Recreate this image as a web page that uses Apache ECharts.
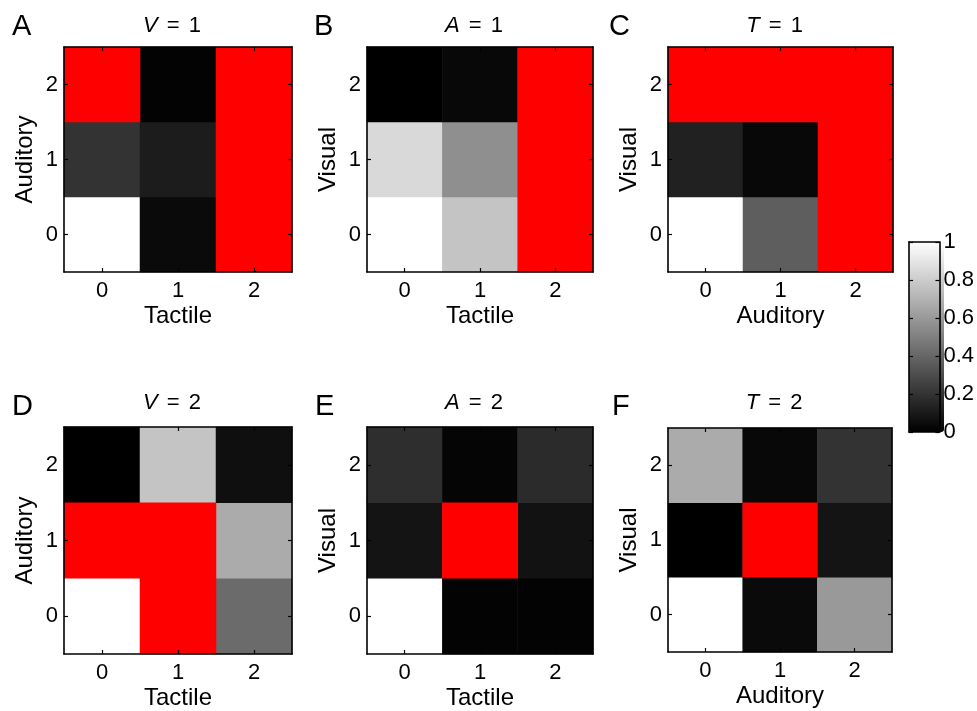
<!DOCTYPE html>
<html><head><meta charset="utf-8">
<script src="https://cdn.jsdelivr.net/npm/echarts@6/dist/echarts.min.js"></script>
<style>html,body{margin:0;padding:0;background:#fff}#c{width:977px;height:711px}</style>
</head><body><div id="c"></div>
<script>
// ---- data ----
const ticks = ['0', '1', '2'];
const panelLetters = ['A', 'B', 'C', 'D', 'E', 'F'];
const condVar = ['V', 'A', 'T', 'V', 'A', 'T'];
const condVal = ['1', '1', '1', '2', '2', '2'];
const xNames = ['Tactile', 'Tactile', 'Auditory', 'Tactile', 'Tactile', 'Auditory'];
const yNames = ['Auditory', 'Visual', 'Visual', 'Auditory', 'Visual', 'Visual'];
// rows indexed by y level (0,1,2), columns by x level (0,1,2); null = excluded (red)
const panelA = [[1.00, 0.04, null], [0.20, 0.11, null], [null, 0.01, null]];
const panelB = [[1.00, 0.77, null], [0.85, 0.56, null], [0.00, 0.03, null]];
const panelC = [[1.00, 0.37, null], [0.13, 0.03, null], [null, null, null]];
const panelD = [[1.00, null, 0.42], [null, null, 0.67], [0.00, 0.77, 0.06]];
const panelE = [[1.00, 0.01, 0.01], [0.08, null, 0.07], [0.18, 0.02, 0.17]];
const panelF = [[1.00, 0.04, 0.60], [0.00, null, 0.08], [0.67, 0.03, 0.20]];
const colorbarTicks = [0, 0.2, 0.4, 0.6, 0.8, 1];

const panels = [panelA, panelB, panelC, panelD, panelE, panelF];

// ---- layout ----
const boxes = [
  {l: 64, t: 47, w: 228, h: 225},
  {l: 367, t: 47, w: 226, h: 225},
  {l: 668, t: 47, w: 225, h: 225},
  {l: 64, t: 427, w: 228, h: 227},
  {l: 367, t: 427, w: 226, h: 227},
  {l: 668, t: 428, w: 224, h: 224}
];
const titleTop = [15, 15, 15, 392, 392, 392];
const titleShift = -6;
const letterPos = [[12, 12], [314, 12], [609, 12], [12, 392], [315, 392], [612, 392]];
const cb = {l: 909, t: 242, w: 35, h: 190};
const FONT = '"Liberation Sans", Arial, Helvetica, sans-serif';
const TICK_FS = 22;

const grid = [], xAxis = [], yAxis = [], series = [], title = [];
const grayIdx = [], redIdx = [];

const lineStyle = {color: '#000', width: 1.6};
const tickStyle = {show: true, inside: true, length: 4, alignWithLabel: true, lineStyle: {color: '#000', width: 1.2}};

panels.forEach((p, i) => {
  const b = boxes[i];
  grid.push({left: b.l, top: b.t, width: b.w, height: b.h, containLabel: false});
  xAxis.push({
    type: 'category', data: ticks, gridIndex: i, position: 'bottom', z: 10,
    axisLine: {show: true, lineStyle}, axisTick: tickStyle, splitLine: {show: false},
    axisLabel: {show: true, color: '#000', fontSize: TICK_FS, fontFamily: FONT, margin: 8},
    name: xNames[i], nameLocation: 'middle', nameGap: 32,
    nameTextStyle: {color: '#000', fontSize: 24, fontFamily: FONT}
  });
  xAxis.push({
    type: 'category', data: ticks, gridIndex: i, position: 'top', z: 10,
    axisLine: {show: true, lineStyle}, axisTick: tickStyle, splitLine: {show: false},
    axisLabel: {show: false}
  });
  yAxis.push({
    type: 'category', data: ticks, gridIndex: i, position: 'left', z: 10,
    axisLine: {show: true, lineStyle}, axisTick: tickStyle, splitLine: {show: false},
    axisLabel: {show: true, color: '#000', fontSize: TICK_FS, fontFamily: FONT, margin: 6},
    name: yNames[i], nameLocation: 'middle', nameGap: 27, nameRotate: 90,
    nameTextStyle: {color: '#000', fontSize: 24, fontFamily: FONT}
  });
  yAxis.push({
    type: 'category', data: ticks, gridIndex: i, position: 'right', z: 10,
    axisLine: {show: true, lineStyle}, axisTick: tickStyle, splitLine: {show: false},
    axisLabel: {show: false}
  });
  const gray = [], red = [];
  p.forEach((row, y) => row.forEach((v, x) => {
    if (v === null) red.push([x, y, 1]); else gray.push([x, y, v]);
  }));
  grayIdx.push(series.length);
  series.push({type: 'heatmap', xAxisIndex: 2 * i, yAxisIndex: 2 * i, data: gray, itemStyle: {borderWidth: 0}, emphasis: {disabled: true}});
  redIdx.push(series.length);
  series.push({type: 'heatmap', xAxisIndex: 2 * i, yAxisIndex: 2 * i, data: red, itemStyle: {borderWidth: 0}, emphasis: {disabled: true}});

  title.push({
    text: panelLetters[i], left: letterPos[i][0], top: letterPos[i][1], padding: 0,
    textStyle: {fontSize: 29, fontWeight: 'normal', color: '#000', fontFamily: FONT}
  });
  title.push({
    text: '{i|' + condVar[i] + '} {e|=} ' + condVal[i],
    left: b.l + b.w / 2 + titleShift, textAlign: 'center', top: titleTop[i], padding: 0,
    textStyle: {fontSize: TICK_FS, fontWeight: 'normal', color: '#000', fontFamily: FONT,
      rich: {
        i: {fontSize: TICK_FS, fontStyle: 'italic', color: '#000', fontFamily: FONT},
        e: {fontSize: TICK_FS, color: '#000', fontFamily: FONT, padding: [0, 3]}
      }}
  });
});

// colorbar axes
const cbi = grid.length;
grid.push({left: cb.l, top: cb.t, width: cb.w, height: cb.h});
xAxis.push({type: 'value', gridIndex: cbi, min: 0, max: 1, position: 'bottom', z: 10,
  axisLine: {show: true, onZero: false, lineStyle}, axisTick: {show: false}, axisLabel: {show: false}, splitLine: {show: false}});
xAxis.push({type: 'value', gridIndex: cbi, min: 0, max: 1, position: 'top', z: 10,
  axisLine: {show: true, onZero: false, lineStyle}, axisTick: {show: false}, axisLabel: {show: false}, splitLine: {show: false}});
yAxis.push({type: 'value', gridIndex: cbi, min: colorbarTicks[0], max: colorbarTicks[colorbarTicks.length - 1], interval: 0.2, position: 'right', z: 10,
  axisLine: {show: true, onZero: false, lineStyle}, axisTick: {show: true, inside: true, length: 4, lineStyle: {color: '#000', width: 1.2}},
  axisLabel: {show: true, color: '#000', fontSize: TICK_FS, fontFamily: FONT, margin: 4, formatter: v => String(+v.toFixed(1))},
  splitLine: {show: false}});
yAxis.push({type: 'value', gridIndex: cbi, min: colorbarTicks[0], max: colorbarTicks[colorbarTicks.length - 1], interval: 0.2, position: 'left', z: 10,
  axisLine: {show: true, onZero: false, lineStyle}, axisTick: {show: true, inside: true, length: 4, lineStyle: {color: '#000', width: 1.2}},
  axisLabel: {show: false}, splitLine: {show: false}});

const option = {
  animation: false,
  backgroundColor: '#fff',
  textStyle: {fontFamily: FONT},
  title, grid, xAxis, yAxis, series,
  visualMap: [
    {type: 'continuous', min: 0, max: 1, seriesIndex: grayIdx, calculable: false,
      orient: 'vertical', left: cb.l, top: cb.t, itemWidth: cb.w, itemHeight: cb.h, padding: 0,
      inRange: {color: ['#000000', '#ffffff']}, text: null, showLabel: false},
    {type: 'continuous', min: 0, max: 1, seriesIndex: redIdx, show: false,
      inRange: {color: ['#ff0000', '#ff0000']}}
  ]
};
const chart = echarts.init(document.getElementById('c'), null, {renderer: 'canvas'});
chart.setOption(option);
</script></body></html>
